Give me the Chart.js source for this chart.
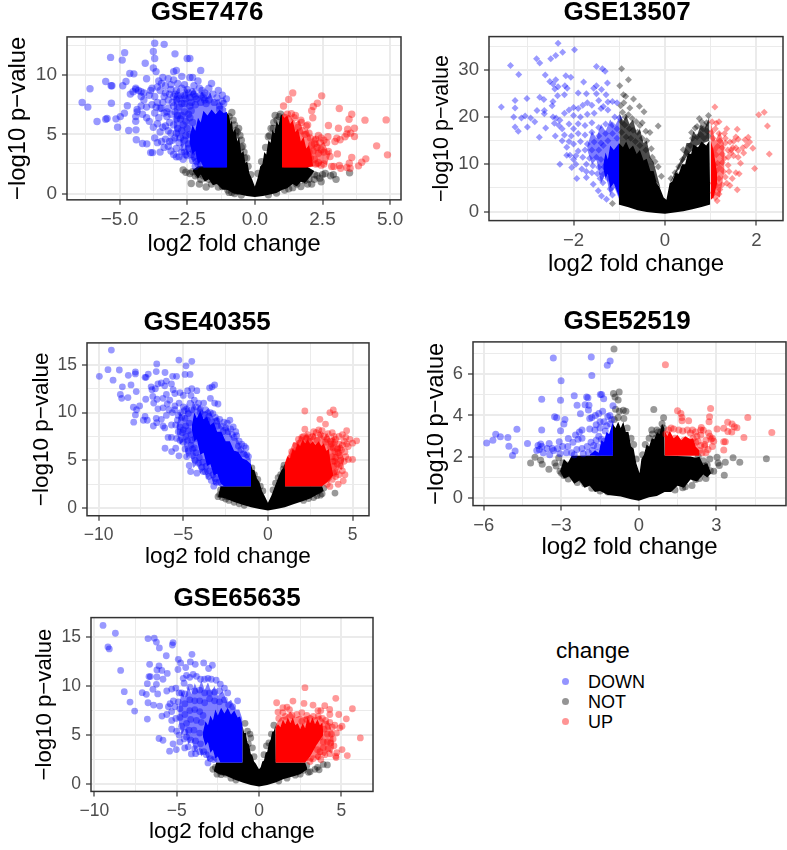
<!DOCTYPE html>
<html><head><meta charset="utf-8">
<script src="https://cdn.jsdelivr.net/npm/chart.js@4"></script>
<style>
html,body{margin:0;padding:0;background:#fff;overflow:hidden;width:787px;height:850px;font-family:"Liberation Sans",Arial,sans-serif}
canvas{position:absolute;filter:blur(.35px)}
.lg{position:absolute;color:#000;white-space:nowrap;line-height:1}
.dot{position:absolute;width:7px;height:7px;border-radius:50%}
</style></head><body>
<canvas id="c1"></canvas><canvas id="c2"></canvas><canvas id="c3"></canvas><canvas id="c4"></canvas><canvas id="c5"></canvas>
<div class="lg" style="left:556px;top:640px;font-size:22.5px">change</div>
<div class="dot" style="left:562px;top:678px;background:rgba(0,0,255,.42)"></div><div class="lg" style="left:588px;top:673px;font-size:18px">DOWN</div>
<div class="dot" style="left:562px;top:698px;background:rgba(0,0,0,.42)"></div><div class="lg" style="left:588px;top:693px;font-size:18px">NOT</div>
<div class="dot" style="left:562px;top:718px;background:rgba(255,0,0,.42)"></div><div class="lg" style="left:588px;top:713px;font-size:18px">UP</div>
<script>
const titles=["GSE7476","GSE13507","GSE40355","GSE52519","GSE65635"];
const xAxisLabel="log2 fold change", yAxisLabel="\u2212log10 p\u2212value";

// ---- GSE7476 ----
const p1XMajor=[-5,-2.5,0,2.5,5], p1XMinor=[-6.25,-3.75,-1.25,1.25,3.75];
const p1YMajor=[0,5,10], p1YMinor=[2.5,7.5,12.5];
const p1BlackTop=[[-2.3,2],[-2.1,2.3],[-1.04,2.3],[-1.03,6.8],[-.95,6.6],[-.9,5.9],[-.85,6.2],[-.8,5.2],[-.72,5.5],[-.65,4.4],[-.58,4.8],[-.5,3.4],[-.42,3.6],[-.35,2.6],[-.28,2.7],[-.2,1.7],[-.1,1.2],[0,.6],[.1,1.3],[.2,2.3],[.28,2.5],[.35,3.5],[.42,3.3],[.5,4.5],[.58,4.3],[.65,5.4],[.72,5.1],[.8,6.1],[.88,5.8],[.95,6.6],[1.02,6.7],[1.03,2.3],[1.9,2.3],[2.2,1.9]];
const p1BlackBase=[[-2.3,1.9],[-2.1,1.3],[-2,1.6],[-1.85,1],[-1.7,1.2],[-1.55,.7],[-1.4,.8],[-1.2,.35],[-1,.3],[-.8,0],[-.6,-.05],[-.3,-.2],[0,-.28],[.3,-.2],[.6,-.05],[.8,.05],[1,.3],[1.2,.45],[1.4,.8],[1.55,.6],[1.7,1],[1.85,.9],[2,1.3],[2.2,1.9]];
const p1BlueTop=[[-2.4,4.9],[-2.3,5.8],[-2.2,5.3],[-2.1,6.4],[-2,6],[-1.9,7],[-1.75,6.6],[-1.6,7.1],[-1.45,6.7],[-1.3,7.1],[-1.15,6.8],[-1.02,6.9]];
const p1BlueBase=[[-2.4,4.2],[-2.3,3.3],[-2.2,3.6],[-2.1,2.5],[-2,2.7],[-1.9,2.2],[-1.02,2.2]];
const p1BlueHaloTop=[[-3,8.2],[-2.85,8.9],[-2.7,8.3],[-2.55,9],[-2.4,8.4],[-2.25,8.9],[-2.1,8.2],[-1.95,8.6],[-1.8,8],[-1.65,8.5],[-1.5,7.8],[-1.35,8],[-1.2,7.4],[-1.05,7.2]];
const p1BlueHaloBase=[[-3,5.8],[-2.9,4.4],[-2.8,4.9],[-2.7,3.7],[-2.6,4.2],[-2.5,3.2],[-2.4,3.5],[-2.3,2.6],[-2.2,2.8],[-2.1,2.2],[-1.05,2.2]];
const p1RedTop=[[1,6.7],[1.1,6.4],[1.2,6.6],[1.3,5.9],[1.4,6.2],[1.5,5.2],[1.6,5.5],[1.7,4.4],[1.8,4.8],[1.9,3.8],[2,4.1],[2.1,3.2],[2.15,2.4]];
const p1RedBase=[[1,2.2],[1.5,2.2],[1.9,2.2],[2.15,2.3]];
const p1RedHaloTop=[[1.05,6.8],[1.3,6.6],[1.5,6],[1.65,6.2],[1.8,5.2],[1.95,5.5],[2.1,4.6],[2.25,4.9],[2.4,4.1],[2.55,4.4],[2.7,3.6],[2.8,3.7]];
const p1RedHaloBase=[[1.05,2.2],[2,2.2],[2.2,2.3],[2.35,2.2],[2.5,2.6],[2.65,2.4],[2.8,3.4]];
const p1Down=[[-6.38,7.69],[-6.17,7.3],[-6.09,8.85],[-5.83,6.08],[-5.33,11.5],[-4.9,11.27],[-4.81,11.9],[-5.51,9.46],[-5.31,9.1],[-5.28,9.1],[-5.3,7.63],[-5.51,6.28],[-5.46,6.34],[-5.13,6.31],[-5.07,5.6],[-4.97,6.5],[-4.82,6.79],[-4.71,7.41],[-4.76,9.46],[-4.88,9.1],[-4.62,10.14],[-4.47,10.11],[-4.66,5.32],[-4.39,5.38],[-4.38,4.54],[-4.15,4.23],[-3.99,4.2],[-3.7,12.7],[-3.35,12.6],[-3.75,12],[-2.95,11.8],[-3.7,11.4],[-2.5,11.4],[-2.4,11.4],[-4.05,11],[-3.75,10.6],[-3.65,10.3],[-3,10.3],[-2.9,10.4],[-2,10.4],[-2.7,9.9],[-2.4,9.8],[-2.3,9.8],[-2.1,9.5],[-1.6,9.3],[-1.35,8.7],[-1.05,8],[-3.4,9.8],[-3.2,9.7],[-3,9.6],[-3.55,9.5],[-4,9.7],[-3.3,9.1],[-3.6,9],[-3.8,8.9],[-4.3,8.7],[-4.4,8.8],[-4.1,8.5],[-4.6,8.4],[-4.5,8.6],[-4.4,8.9],[-4.2,8.6],[-3.9,8.3],[-3.7,8.2],[-3.5,8.7],[-3.3,8.5],[-3.1,8.8],[-2.9,8.7],[-2.7,8.9],[-2.5,8.8],[-2.3,8.6],[-2.05,8.9],[-1.95,8.7],[-1.75,8.3],[-1.55,8.4],[-1.4,8.1],[-1.2,7.8],[-2.2,8.2],[-2.4,8.1],[-2.6,8.3],[-2.8,8],[-3,8.2],[-3.2,7.9],[-3.4,7.7],[-3.6,7.7],[-3.8,7.5],[-4,7.3],[-4.2,7.4],[-4.35,7.1],[-4.35,6.9],[-4.4,6.5],[-4.4,6.1],[-4.15,6.7],[-4,6.4],[-3.9,6.1],[-3.75,5.6],[-3.55,6.4],[-3.35,6.8],[-3.2,7.2],[-3,7.4],[-2.8,7.3],[-2.6,7.6],[-2.4,7.4],[-2.2,7.5],[-2,7.7],[-1.8,7.6],[-3.7,4.7],[-3.6,4.3],[-3.5,5.2],[-3.4,5.6],[-3.3,4.6],[-3.1,5.1],[-3,5.8],[-2.9,6.3],[-2.7,6.6],[-2.55,6.1],[-3.85,3.46],[-3.78,3.46],[-3.5,3.5],[-3.35,3.9],[-3.2,4],[-3,3.3],[-2.9,3.1],[-2.8,3.1],[-2.55,3.3],[-2.5,3.2],[-2.3,2.8],[-2.25,3.6],[-2.2,2.3],[-2.95,4.7],[-2.8,4.3],[-2.65,3.9],[-2.55,4.9],[-2.7,5.3],[-2.85,5.5],[-3.15,6],[-3.25,6.5],[-2.95,6.9],[-2.65,5.8],[-2.45,6.7],[-2.35,7],[-3.45,4.4],[-3.15,4.4],[-2.45,4.2],[-2.4,5],[-2.6,3.5],[-2.35,3.3],[-2.15,2.7],
[-3.45,7.2],[-3.05,7.7],[-2.9,7.9],[-2.7,7.6],[-2.55,8],[-2.35,7.7],[-2.15,8],[-1.9,8.1],[-1.7,7.9],[-1.5,7.7],[-1.3,7.4],[-3.35,8.2],[-3.15,8.4],[-2.95,8.4],[-2.75,8.3],[-2.45,8.5],[-2.25,8.4],[-2,8.3],[-1.85,7.9],[-2.85,6.6],[-2.75,6.3],[-2.6,6.9],[-2.4,6.4],[-2.3,6],[-2.5,5.5],[-2.9,5.1],[-3.05,4.5],[-2.75,4.7],[-2.6,4.5],[-2.45,3.8],[-2.3,4.3],[-2.25,3.1],[-2.1,2.5],[-2.05,3.1],[-2.9,3.8],[-3.1,3.6],[-2.7,3.5],[-2.65,2.9],[-3.7,6.8],[-3.5,7.2],[-3.25,6.9],[-3.1,6.7],[-3.6,5.9],[-3.3,5.7],[-3.2,5.3],[-3.65,7.3],[-4.1,7.9],[-3.85,8.7],[-4.2,8.2],[-1.2,8.3],[-1.3,7.1],[-1.15,7.6],[-1.7,8.9],[-1.85,8.5],[-3.1,9.2],[-2.85,9.3],[-2.6,9.2],[-2.25,9.1],[-3.45,9.3]];
const p1Not=[[-2.65,2],[-2.55,1.8],[-2.4,1.7],[-2.3,1.85],[-2.35,.85],[-2.05,.8],[-1.8,.55],[-2.1,1.6],[-1.9,1.5],[-1.7,1.2],[-1.5,1.1],[-1.2,.6],[-1,.3],[-.85,6.85],[-.95,6.5],[-.8,6.2],[-.75,5.8],[-.6,5.5],[-.55,4.9],[-.5,4.5],[-.45,4],[-.4,3.5],[-.3,3],[-.7,5.3],[-.85,.1],[-.65,.2],[.75,6.6],[.9,6.5],[.95,6.7],[.7,6],[.6,5.5],[.5,4.8],[1.8,2],[1.9,1.9],[2,1.7],[2.2,1.6],[2.3,1.5],[2.4,1.3],[2.45,1],[2.1,.8],[1.95,.8],[1.7,.6],[2.6,1.7],[2.8,1.5],[2.9,1.6],[3,1.2],[3.5,1.75],[2.5,1.6],[1.4,.5],[1.6,1.2],[1.75,1.5],[1.1,.3],[-.65,5.2],[-.72,4.9],[-.5,3.9],[-.38,3],[-.25,2.3],[-.15,1.6],[.12,1.7],[.25,2.7],[.4,3.9],[.55,4.9],[.68,5.5],[.82,6.2],[-1.6,.8],[-1.35,.55],[-.95,.1],[-.75,0],[-.5,-.12],[.5,-.1],[.8,.05],[1.25,.4],[1.55,.8],[1.85,1.1],[2,1.2],[1.85,1.6],[2.2,1.2],[-2.2,1.5],[-2,1.2]];
const p1Up=[[1.06,7.4],[1.25,7.95],[1.4,8.5],[2.47,8.25],[2.31,7.63],[2.16,7.35],[2.1,7],[2.14,6.4],[3.12,7.18],[3.58,6.7],[3.48,6.28],[4.07,6.2],[4.85,6.22],[4.9,3.27],[4.5,4.03],[4.1,2.93],[3.95,2.65],[3.83,2.34],[3.68,5.52],[3.43,5.44],[3.4,5.04],[3.54,5.1],[3.68,4.82],[3.09,5.52],[2.72,5.75],[3.03,4.68],[3.33,4.8],[2.96,4.4],[3.15,4.54],[3.05,3.35],[2.72,3.55],[2.78,3.13],[2.84,2.28],[2.92,2.28],[3.12,2.37],[3.17,2.14],[3.4,2.2],[3.49,2.56],[3.58,3.04],[3.52,2.14],[1.2,6.7],[1.35,6.75],[1.45,6.4],[1.5,6.6],[1.7,6.2],[1.72,6],[1.9,5.7],[1.95,5.8],[1.6,5.6],[1.75,5.3],[1.85,5],[2,5.1],[2.05,4.7],[2.25,4.6],[2.35,4.9],[2.45,4.7],[2.55,4.5],[2.7,4.8],[2.65,4.3],[2.4,4.3],[2.2,4.2],[2.1,4.1],[2.3,3.9],[2.45,3.7],[2.55,3.5],[2.35,3.4],[2.15,3.6],[2,3.5],[2.05,3],[2.2,2.9],[2.35,2.6],[2.45,2.4],[2.55,2.5],[2.25,2.5],[1.95,2.6]];

// ---- GSE13507 ----
const p2XMajor=[-2,0,2], p2XMinor=[-3,-1,1];
const p2YMajor=[0,10,20,30], p2YMinor=[5,15,25,35];
const p2BlackHaloTop=[[-1,21],[-.92,19],[-.85,20.5],[-.78,18.5],[-.7,19.5],[-.62,16.5],[-.55,17.5],[-.47,14.5],[-.4,15],[-.32,11.5],[-.25,10.5],[-.1,5],[.1,6],[.2,8],[.3,10],[.4,12],[.47,14.5],[.55,14.5],[.62,17],[.7,16],[.78,18.5],[.86,17.5],[.97,20]];
const p2BlackHaloBase=[[-1,13],[-.8,13],[-.6,11],[-.4,9],[-.25,7],[-.1,5],[.1,6],[.3,9],[.5,12],[.7,14],[.97,15]];
const p2BlackTop=[[-1.02,1.5],[-1.01,14.5],[-.92,13.6],[-.85,14.8],[-.78,13.2],[-.7,14],[-.62,12.2],[-.55,13],[-.47,10.8],[-.4,11.2],[-.32,8.6],[-.25,8.6],[-.18,6],[-.12,5.2],[-.03,3],[.03,2.5],[.1,6],[.16,6.4],[.23,8.2],[.3,8],[.37,10],[.44,10],[.5,12.4],[.57,12.2],[.62,14.2],[.72,13.6],[.8,14.8],[.9,14],[.97,15],[.99,1.5]];
const p2BlackBase=[[-1.02,1.5],[-.8,.9],[-.6,.3],[-.4,-.1],[-.2,-.3],[0,-.45],[.2,-.2],[.4,.1],[.6,.5],[.8,1],[.99,1.5]];
const p2BlueTop=[[-1.35,10],[-1.3,12.5],[-1.25,11],[-1.2,14],[-1.12,13],[-1,14.5]];
const p2BlueBase=[[-1.35,9],[-1.3,7],[-1.25,8],[-1.2,5],[-1.12,6],[-1,3]];
const p2BlueHaloTop=[[-1.7,14],[-1.6,17],[-1.5,15.5],[-1.4,18.5],[-1.3,17],[-1.2,19.5],[-1.1,18],[-1,20]];
const p2BlueHaloBase=[[-1.7,13],[-1.6,10],[-1.5,11],[-1.4,6],[-1.3,8],[-1.2,3.5],[-1.1,5],[-1,2.5]];
const p2RedTop=[[1,15],[1.06,13],[1.14,8]];
const p2RedBase=[[1,2.5],[1.06,3],[1.14,6]];
const p2RedHaloTop=[[1,19],[1.1,15],[1.2,17],[1.3,14]];
const p2RedHaloBase=[[1,2.5],[1.1,3.5],[1.2,3],[1.3,9]];
const p2Down=[[-2.34,35.6],[-1.98,34.2],[-2.24,33.7],[-2.39,33],[-2.5,32.3],[-2.81,32.3],[-2.74,31.4],[-3.38,30.9],[-3.2,29],[-2.62,28.9],[-1.5,30.7],[-1.37,30.2],[-1.31,29.7],[-2.17,28.7],[-2.06,28.4],[-2.39,27.9],[-2.52,27.5],[-2.45,27],[-1.78,27.4],[-1.26,27.2],[-1.5,26.6],[-1.56,26.1],[-2.19,26.6],[-2.14,26.1],[-2.41,25.9],[-2.34,26.4],[-1.39,25.8],[-1.9,25.1],[-1.72,24.9],[-1.5,24.9],[-1.29,24.7],[-2.2,24.7],[-2.35,24.5],[-3.02,23.9],[-3.28,23.5],[-2.74,24.2],[-2.65,23.7],[-2.45,23.3],[-2.47,22.4],[-3.28,21.9],[-3.58,22.1],[-2.8,21.4],[-2.64,21.4],[-2.64,20.7],[-3.31,20],[-3.14,19.8],[-3.06,20.2],[-2.94,19.8],[-2.85,19],[-3.28,17.9],[-3.21,17],[-3.01,17.9],[-2.61,17.7],[-2.75,15.7],[-2.45,20],[-2.38,19.8],[-2.3,19.3],[-2.42,18.7],[-2.32,18.2],[-2.25,17.5],[-2.4,16],[-2.2,16.2],[-2.3,10],[-2.04,9.3],[-1.93,7],[-1.72,7.2],[-1.57,5.8],[-1.36,6.1],[-2.15,11.9],[-2.08,11.9],[-2,11],[-1.46,4.4],[-1.39,3.3],[-1.28,2.6],[-1.15,3.5],[-1.2,4.8],[-2.2,20.8],[-2.1,21.5],[-2,22],[-1.9,21.8],[-1.8,22.5],[-1.7,23],[-1.6,22.5],[-1.45,23.5],[-1.35,22.2],[-1.25,23.2],[-1.15,23.3],[-1.05,23],[-2,20.3],[-1.85,20],[-1.7,20.6],[-1.55,20.8],[-1.4,21.8],[-1.25,21.5],[-1.1,20],[-1,19.8],[-2.1,18.5],[-2,17.5],[-1.9,18.6],[-1.75,18.2],[-1.6,18.8],[-1.45,17.8],[-1.3,18.5],[-1.15,18.3],[-1.05,17.5],[-2.05,16],[-1.9,16.5],[-1.75,16.2],[-1.6,16.8],[-1.45,16],[-1.3,16.5],[-1.15,16.5],[-1.05,15.5],[-2,14.3],[-1.85,14.8],[-1.7,14.3],[-1.55,14.7],[-1.4,14.5],[-1.25,15],[-1.9,12.8],[-1.75,13],[-1.6,13],[-1.45,13],[-1.35,14],[-1.95,11.8],[-1.8,11.5],[-1.65,11.3],[-1.5,11.5],[-1.4,11],[-1.72,10],[-1.58,9.7],[-1.45,9.4],[-1.33,9.5],[-1.6,8.2],[-1.48,8],[-1.35,7.9],[-1.25,7],[-1.15,6.6],[-1.42,7],[-2.15,13.6],[-2.1,14.8],[-2.25,15],[-1.95,10],[-1.82,9],[-1.72,8.5]];
const p2Not=[[-.95,30.2],[-.8,27.9],[-.99,26.6],[-.91,24.7],[-.86,24.4],[-.69,23.8],[-.56,22.3],[-.46,21.1],[-.77,21.9],[-.15,18.1],[.95,20.3],[.75,19.7],[.91,18.8],[.66,17.7],[.58,16.7],[.4,13.1],[-1.15,1.7],[-.93,21],[-.87,20],[-.8,20.5],[-.72,19.7],[-.63,19],[-.55,18.2],[-.5,18.8],[-.42,17],[-.33,16.7],[-.95,19],[-.88,18.3],[-.78,17.5],[-.7,17.2],[-.6,16.8],[-.5,15.5],[-.4,15],[-.95,16.8],[-.85,15.8],[-.75,15.5],[-.65,14.8],[-.55,14],[-.42,13],[-.3,13.3],[-.28,11.5],[-.22,10.6],[-.15,9.5],[-.08,7.5],[.92,17],[.83,17.5],[.78,16.3],[.7,15.8],[.6,15.5],[.85,15.5],[.95,16],[.55,14],[.47,12.5],[.38,11],[.3,9.5],[.22,8.2],[.13,7],[.7,18],[.8,19],[.87,18.2],[-.97,22.4],[-.9,23]];
const p2Up=[[1.09,22.1],[2.05,20.5],[2.17,21],[2.24,18.1],[2.28,12.2],[1.96,9.1],[1.03,19],[1.12,18.7],[1.18,19],[1.1,17.5],[1.18,16.5],[1.35,17.5],[1.3,16.5],[1.58,17.4],[1.55,15.8],[1.02,16.8],[1.05,15.5],[1.2,15],[1.32,14.5],[1.42,14.7],[1.5,14.9],[1.6,15.3],[1.75,15.2],[1.82,15.7],[1.85,14.7],[1.78,14],[1.92,13.4],[1.7,13.5],[1.6,12.9],[1.48,13.5],[1.37,13],[1.25,13.5],[1.15,13.8],[1.08,13],[1.12,12],[1.25,12.2],[1.38,11.5],[1.5,11.8],[1.6,11.5],[1.72,12.4],[1.65,10.2],[1.38,9.8],[1.25,10.4],[1.15,10.2],[1.08,9.8],[1.12,8.6],[1.28,8.5],[1.4,8.5],[1.55,8.2],[1.62,8],[1.32,7.3],[1.47,7],[1.18,7],[1.35,6],[1.42,5.5],[1.58,4.6],[1.05,6],[1.12,5.5],[1.2,4.7],[1.25,5.7],[1.18,3.7],[1.1,3],[1.14,2.3],[1.05,4],[1.55,13.5],[1.44,12.4],[1.3,11.3],[1.2,9.2],[1.32,15.5],[1.45,13]];

// ---- GSE40355 ----
const p3XMajor=[-10,-5,0,5], p3XMinor=[-7.5,-2.5,2.5];
const p3YMajor=[0,5,10,15], p3YMinor=[2.5,7.5,12.5];
const p3BlackTop=[[-2.95,1.2],[-2.8,2.3],[-1.02,2.3],[-1.01,4.6],[-.9,4],[-.8,4],[-.65,3.1],[-.5,2.7],[-.35,1.8],[-.2,1.3],[0,.55],[.2,1.3],[.35,2],[.5,2.7],[.65,3.4],[.8,4],[.9,4.2],[1,4.7],[1.02,2.3],[3.2,2.3],[3.3,1.8]];
const p3BlackBase=[[-2.95,1.2],[-2.5,1],[-2,.65],[-1.5,.35],[-1,.1],[-.5,-.1],[0,-.25],[.5,-.1],[1,.1],[1.5,.4],[2,.7],[2.5,1],[3,1.5],[3.3,1.8]];
const p3BlueTop=[[-4.5,8.6],[-4.35,10],[-4.2,9.4],[-4,10.2],[-3.8,9.3],[-3.6,9.6],[-3.4,8.7],[-3.2,9],[-3,8],[-2.75,8],[-2.5,7],[-2.25,7],[-2,6],[-1.75,5.9],[-1.5,5.2],[-1.25,5],[-1,4.6]];
const p3BlueBase=[[-4.5,8.2],[-4.35,7],[-4.2,7.2],[-4,5.6],[-3.8,5.8],[-3.6,4.4],[-3.4,4.6],[-3.2,3.4],[-3,3.6],[-2.8,2.6],[-2.6,2.3],[-1,2.3]];
const p3BlueHaloTop=[[-5.4,8.5],[-5.2,10.2],[-5,9.4],[-4.8,11],[-4.6,10.2],[-4.4,11.2],[-4.2,10.4],[-4,10.9],[-3.8,10],[-3.5,10.5],[-3.2,9.4],[-3,9.6],[-2.7,8.5],[-2.4,8.6],[-2.1,7.4],[-1.8,7.3],[-1.5,6],[-1.25,5.9],[-1,5]];
const p3BlueHaloBase=[[-5.4,8],[-5.2,6.6],[-5,7],[-4.8,5.2],[-4.6,5.6],[-4.4,4.2],[-4.2,4.6],[-4,3.6],[-3.8,4],[-3.6,3],[-3.4,3.4],[-3.2,2.4],[-3,2.6],[-2.8,2.2],[-1,2.3]];
const p3RedTop=[[1,4.7],[1.15,5.4],[1.3,5.2],[1.45,6.2],[1.6,6],[1.75,6.8],[1.9,6.5],[2.05,7.2],[2.2,6.8],[2.35,7.2],[2.5,6.7],[2.65,7],[2.8,6.6],[3,7],[3.15,6.5],[3.3,6.8],[3.45,6],[3.6,6.2],[3.7,4.8],[3.85,3.6]];
const p3RedBase=[[1,2.3],[2,2.3],[3.2,2.3],[3.5,2.7],[3.85,3.4]];
const p3RedHaloTop=[[1,4.7],[1.3,6],[1.5,6.9],[1.7,6.8],[1.9,7.6],[2.1,7.4],[2.3,7.9],[2.5,7.3],[2.7,7.9],[2.9,7.4],[3.1,8],[3.3,7.4],[3.5,7.9],[3.7,7.2],[3.9,7.6],[4.1,6.4],[4.25,6.7],[4.4,5.6],[4.5,5.2]];
const p3RedHaloBase=[[1,2.3],[3.2,2.3],[3.4,2.9],[3.6,2.6],[3.8,3.4],[4,3.2],[4.2,4.2],[4.35,4],[4.5,5]];
const p3Down=[[-9.25,16.55],[-9.45,14.5],[-9.96,13.8],[-8.78,14.46],[-9.15,13.4],[-8.25,13.9],[-7.83,14.25],[-7.83,14.05],[-7.07,14.04],[-7.26,13.7],[-7.2,13.7],[-6.57,15.1],[-6.6,14.3],[-6.08,14.2],[-5.26,15.5],[-4.5,15.37],[-4.84,14.9],[-4.9,14],[-4.6,14],[-5.63,13.8],[-5.4,13.8],[-8.09,12.9],[-8.6,12.7],[-7.78,12.2],[-8.72,11.9],[-8.64,11.5],[-8.27,11.57],[-7.22,11.4],[-7.95,10.56],[-7.58,10.7],[-7.76,10.3],[-7.83,9.76],[-7.93,9],[-7.26,9.6],[-7.36,9.2],[-7.13,9.2],[-6.77,8.6],[-6.57,8.95],[-6.9,12.7],[-6.85,12.4],[-6.65,12.5],[-6.5,13],[-6.3,13.1],[-6.1,12.8],[-6,13.3],[-5.7,13],[-5.6,12.4],[-5.5,12],[-5.2,12.1],[-5,11.8],[-4.75,12.3],[-4.5,12.5],[-4.2,12.3],[-3.45,12.6],[-3.3,12.7],[-3.15,12.9],[-4.55,11.8],[-4.35,11.3],[-4.1,11],[-3.8,11],[-3.4,11.5],[-3.15,11],[-2.95,10.9],[-6.8,11.7],[-6.55,11.4],[-6.75,11],[-6.5,10.4],[-6.2,11.5],[-6,11.9],[-5.8,11.3],[-6.2,10.5],[-5.95,10.9],[-5.85,10.3],[-5.65,10],[-5.5,10.7],[-5.25,11],[-5,10.6],[-4.8,10.4],[-4.6,11],[-6.3,9.3],[-6.6,9.4],[-6,9.7],[-5.7,8.7],[-6.2,8.6],[-6.1,8.4],[-5.35,9.2],[-5.1,9.5],[-4.9,9.4],[-3.7,10.3],[-3.4,10],[-3.1,9.5],[-2.85,9.3],[-2.6,9],[-2.4,8.9],[-2.25,9.2],[-2.05,8.5],[-1.9,8],[-2.1,7.7],[-1.85,7.6],[-1.7,7],[-1.55,6.7],[-1.4,6.5],[-1.3,6.3],[-1.15,5.4],[-1.45,5.7],[-2.35,8],[-2.65,8],[-3,8.6],[-3.3,9],[-3.6,9.2],[-4,10],[-5.9,7.4],[-5.7,7.4],[-5.4,7.3],[-5.2,7.1],[-5,6.9],[-5.3,8],[-5.05,7.9],[-6.08,6.27],[-5.69,5.92],[-5.45,6.27],[-5.26,5.47],[-4.8,5.4],[-4.65,4.46],[-4.57,3.83],[-4.2,3.66],[-3.82,3.83],[-3.5,3.3],[-3.2,2.3],[-4.9,6.2],[-4.7,6],[-4.45,5.5],[-4.3,5],[-4.1,4.7],[-3.9,4.3],[-3.7,3.8],[-3.35,2.9],[-4.55,6.6],[-4.35,6.3],[-4.75,7.1],[-3.05,2.7],
[-5.5,10.3],[-5.3,9.7],[-5.15,10],[-4.95,10.2],[-4.7,9.9],[-4.5,10.3],[-4.25,10.6],[-4,10.4],[-3.75,9.8],[-3.5,9.6],[-3.25,9.9],[-3,9.1],[-2.75,8.6],[-2.5,8.4],[-2.2,8.3],[-2,7.4],[-1.75,6.5],[-1.6,6.1],[-1.25,5.6],[-5.45,8.7],[-5.2,8.5],[-5,8.2],[-4.85,8.6],[-4.65,8.9],[-4.7,8.1],[-4.55,7.7],[-4.85,7.5],[-4.5,7.1],[-4.3,7.3],[-4.45,6.2],[-4.25,5.8],[-4.05,5.3],[-3.85,4.8],[-3.65,4.4],[-3.45,3.9],[-3.25,3.5],[-3.1,3.1],[-2.9,2.7]];
const p3Not=[[3.96,1.57],[-2.85,1.4],[-2.95,1.2],[-2.7,1.1],[-2.5,.95],[-2.6,1.5],[-2.3,.8],[-2,.6],[-1.7,.45],[-1.4,.3],[-.95,4.2],[-.8,3.5],[.95,4.5],[.9,4.1],[.75,3.5],[3.2,1.5],[3.3,2.1],[3.1,1.35],[2.9,1.3],[2.7,1.1],[2.4,1],[2.1,.8],[3,1.8],[-.6,3],[-.45,2.3],[-.3,1.8],[.3,1.9],[.45,2.6],[.6,3.2],[-2.8,1.9],[-2.4,1.2]];
const p3Up=[[2.18,10.17],[3.86,10.28],[3.66,10],[3.96,9.8],[3.07,9.3],[3.4,8.8],[2.18,8.26],[3,8.2],[4.65,8.1],[5.24,7.04],[5,6.8],[4.84,7.2],[4.74,6.45],[4.55,5.9],[5,5.1],[4.75,5.1],[4.6,5.4],[4.3,5],[4.15,2.5],[4.45,2.86],[3.66,2.27],[1.3,5.2],[1.5,5.5],[1.6,6],[1.65,6.6],[1.85,6.8],[2,7.4],[2.1,7.5],[2.25,7.3],[2.5,7.4],[2.7,8],[2.85,7.9],[3.1,7.7],[3.3,7.5],[3.55,7.8],[3.8,7.9],[3.9,7.5],[4,7.2],[4.2,7.5],[4.4,7.7],[4.6,7.4],[3.7,7],[3.95,6.9],[4.2,6.7],[4.4,6.6],[4.65,6.7],[4.1,6.2],[4.35,6.1],[3.85,6.3],[3.7,6.4],[3.95,5.9],[4.15,5.8],[3.8,5.4],[4,5.3],[4.25,5.5],[3.85,4.9],[4.1,4.6],[3.9,4.4],[4.05,3.8],[3.85,3.7],[4.2,3.5],[3.8,3],[3.6,3.2],[3.5,2.5],[2.4,7],[2.9,7.1],[3.4,6.9],[1.15,4.3],[1.4,5.9],[1.8,7.2],[2.35,7.7],[2.65,7.5],[3.2,8.1],[3.5,7.2],[3.75,6.7],[4.5,7],[4.25,6.3],[4.5,4.9],[4.3,4.4],[4.4,3.9],[4.55,3.5],[4,3.3],[3.95,4.9]];

// ---- GSE52519 ----
const p4XMajor=[-6,-3,0,3], p4XMinor=[-4.5,-1.5,1.5,4.5];
const p4YMajor=[0,2,4,6], p4YMinor=[1,3,5,7];
const p4BlackTop=[[-3.05,1.3],[-2.9,1.9],[-2.75,1.7],[-2.6,2.05],[-1.02,2.06],[-1.01,3.6],[-.9,3.4],[-.8,3.7],[-.7,3.4],[-.6,3.7],[-.5,3.2],[-.4,3.2],[-.3,2.5],[-.2,2.4],[-.1,1.7],[.03,1.2],[.1,1.9],[.2,2.1],[.3,2.6],[.4,2.5],[.5,2.9],[.6,2.85],[.7,3.2],[.8,3.1],[.9,3.6],[.99,3.4],[1,2.06],[2,2.02],[2.2,1.95],[2.35,2],[2.5,1.6],[2.65,1.7],[2.8,1.2]];
const p4BlackBase=[[-3.05,1.3],[-2.9,.95],[-2.7,1.05],[-2.5,.7],[-2.3,.85],[-2.1,.5],[-1.9,.6],[-1.7,.3],[-1.5,.35],[-1.2,.15],[-.7,.08],[-.3,-.05],[0,-.13],[.4,.05],[.7,.1],[1,.3],[1.25,.3],[1.5,.6],[1.75,.5],[2,.9],[2.25,.8],[2.5,1.15],[2.65,1],[2.8,1.2]];
const p4BlueTop=[[-1.9,2.1],[-1.7,2.3],[-1.55,2.2],[-1.45,2.8],[-1.35,2.7],[-1.25,3.2],[-1.15,3.1],[-1,3.7]];
const p4BlueBase=[[-1.9,2.06],[-1.45,2.05],[-1,2.05]];
const p4RedTop=[[1,3.3],[1.1,3],[1.2,3.25],[1.35,2.9],[1.5,3.05],[1.65,2.8],[1.8,3],[2,2.85],[2.1,2.9],[2.2,2.5],[2.35,2.3]];
const p4RedBase=[[1,2.05],[1.5,2.05],[2,2.05],[2.35,2.05]];
const p4Down=[[-3.31,6.78],[-1.84,6.83],[-1.82,5.93],[-1.11,6.64],[-1.22,6.43],[-3.01,5.68],[-3.76,4.79],[-3.03,4.74],[-2.5,4.95],[-2.02,4.89],[-1.97,4.86],[-1.49,5.02],[-1.44,5.02],[-1.36,4.81],[-2.39,4.5],[-2.08,4.52],[-1.93,4.5],[-1.95,4.26],[-1,4.47],[-2.26,4.08],[-3.26,3.94],[-3.18,3.89],[-2.86,3.81],[-2.9,3.59],[-3.76,3.3],[-3.03,3.26],[-4.72,3.33],[-5.54,3.09],[-5.36,2.97],[-5.07,2.93],[-5.65,2.8],[-5.89,2.67],[-5.03,2.51],[-4.79,2.28],[-4.89,2.06],[-4.31,2.65],[-3.8,2.62],[-3.47,2.65],[-3.08,2.73],[-2.73,2.89],[-1.9,3.85],[-1.82,3.9],[-1.68,4],[-1.55,4.1],[-1.4,4.2],[-1.2,3.95],[-1.12,4],[-1.05,3.8],[-1.5,3.7],[-1.35,3.7],[-1.1,3.6],[-1.25,3.5],[-1.5,3.4],[-1.7,3.3],[-1.9,3.35],[-2.2,3.3],[-2.3,3.2],[-2.45,3.05],[-2.2,2.9],[-2.35,2.85],[-2.55,2.7],[-2.75,2.5],[-2.95,2.5],[-3.15,2.4],[-3.35,2.4],[-3.55,2.4],[-3.75,2.5],[-3.85,2.35],[-3.95,2.3],[-3.7,2.2],[-3.45,2.1],[-3.3,2.3],[-3.05,2.15],[-2.8,2.2],[-2.6,2.2],[-2.4,2.35],[-2.2,2.4],[-2,2.5],[-1.85,2.7],[-1.65,2.8],[-1.55,3],[-1.75,2.55],[-1.95,2.2],[-2.15,2.15],[-2.5,2.1],[-3.9,2.55],[-1.65,3.55],[-1.3,3.25],[-1.6,2.5],[-1.45,2.85],[-1.8,2.3],[-1.6,2.2],[-1.35,2.75],[-1.2,2.9]];
const p4Not=[[-.96,7.22],[-.76,5.14],[-.98,5.06],[-.92,4.9],[-.8,4.75],[.58,4.29],[.96,3.89],[4.94,1.91],[3.91,1.74],[3.65,1.96],[3.31,1.11],[3.35,1.74],[3.03,1.98],[3.07,1.7],[3.12,1.58],[2.77,1.33],[-4.19,1.7],[-4.02,1.98],[-3.8,1.84],[-3.74,1.64],[-3.48,1.4],[-3.25,1.7],[-3.2,1.55],[-2.99,1.2],[-2.73,.93],[-2.38,.76],[-1.82,.48],[2.06,.61],[.5,3.3],[.53,3.1],[-.9,4.3],[-.75,4.2],[-.6,4.25],[-.5,4.2],[-.58,3.85],[-.8,3.9],[-.95,3.8],[.9,3.6],[.95,3.4],[.75,3.2],[.65,2.9],[-3.1,1.95],[-2.95,1.7],[-3.05,1.3],[-2.75,1.6],[-2.6,1.3],[-2.45,1.1],[-2.2,.9],[2.3,2],[2.5,1.8],[2.65,1.6],[2.75,1.9],[2.9,1.3],[2.45,1.2],[2.6,.95],[2.2,.9],[1.8,.55],[-1.5,.35],[-1.2,.3],[-.3,2.9],[-.2,2.6],[-.45,3.4],[-.1,1.9],[.15,2.1],[.25,2.6],[.4,2.9],[.7,3.3],[.85,3.2],[-2.1,.7],[-2.9,1.1],[1.4,.4],[1.7,.5],[2.35,.95],[2.5,1.55]];
const p4Up=[[1.03,6.45],[2.78,4.34],[2.74,3.94],[2.72,3.7],[1.5,4.23],[1.63,4.1],[1.67,3.9],[1.67,3.75],[1.93,3.75],[4.22,3.9],[5.15,3.18],[4.07,2.94],[3.44,3.67],[3.61,3.59],[3.8,3.41],[3.45,3.22],[3.29,3.38],[3.03,3.34],[3.29,2.73],[3.35,2.73],[3.29,2.33],[3.6,3.2],[3.7,3.45],[2.42,3.42],[2.4,3.3],[2.5,3.28],[2.08,3.3],[1.88,3.3],[2.2,3.2],[1.55,3.3],[1.25,3.4],[1.15,3.3],[2.4,3.05],[2.55,2.6],[2.55,2.5],[2.4,2.55],[2.75,3],[2.85,2.9],[2.8,2.85],[2.9,2.75],[2.7,3.15],[2.68,2.35],[2.85,2.5],[2.6,2.2],[2.35,2.3],[2.2,2.7],[2.15,2.5],[1.4,2.9],[1.75,2.8],[2.1,2.9],[2.05,2.7],[1.35,3.35],[1.7,3.25],[2,3.15],[2.25,3],[2.3,2.75],[2.45,2.2],[2.6,2.8],[1.05,3.1]];

// ---- GSE65635 ----
const p5XMajor=[-10,-5,0,5], p5XMinor=[-7.5,-2.5,2.5];
const p5YMajor=[0,5,10,15], p5YMinor=[2.5,7.5,12.5];
const p5BlackTop=[[-2.75,1.3],[-2.6,2.2],[-1.02,2.2],[-1.01,6],[-.9,5.2],[-.8,5.2],[-.7,4.2],[-.6,4],[-.5,3.1],[-.4,2.9],[-.3,2.3],[-.2,2.1],[0,1.5],[.1,1.7],[.2,2.3],[.3,2.4],[.4,3.2],[.5,3.3],[.6,4.2],[.7,4.5],[.8,5.3],[.9,5.4],[1,6],[1.02,2.2],[2.8,2.2],[2.95,1.5]];
const p5BlackBase=[[-2.75,1.3],[-2.4,1],[-2,.85],[-1.5,.45],[-1,.15],[-.5,-.1],[0,-.25],[.5,-.1],[1,.15],[1.5,.5],[2,.75],[2.5,1],[2.95,1.5]];
const p5BlueTop=[[-3.4,5.3],[-3.25,6.4],[-3.1,6],[-2.95,7],[-2.8,6.5],[-2.65,7.6],[-2.5,7],[-2.3,7.8],[-2.1,7.2],[-1.9,7.8],[-1.7,7.1],[-1.5,7.5],[-1.3,6.8],[-1.15,6.9],[-1,6]];
const p5BlueBase=[[-3.4,4.8],[-3.25,3.9],[-3.1,4.3],[-2.95,3.2],[-2.8,3.5],[-2.65,2.6],[-2.5,2.8],[-2.35,2.2],[-1,2.2]];
const p5BlueHaloTop=[[-4.9,7.5],[-4.7,9.5],[-4.5,8.8],[-4.3,10],[-4.1,9.2],[-3.9,10.3],[-3.7,9.5],[-3.5,10.6],[-3.3,9.6],[-3.1,10.4],[-2.9,9.4],[-2.7,10],[-2.5,9],[-2.2,9.5],[-1.9,8.3],[-1.7,8.6],[-1.4,7.6],[-1.2,7.6],[-1,6.6]];
const p5BlueHaloBase=[[-4.9,6.6],[-4.7,5],[-4.5,5.6],[-4.3,4],[-4.1,4.5],[-3.9,3.3],[-3.7,3.8],[-3.5,2.8],[-3.3,3.2],[-3.1,2.3],[-2.9,2.6],[-2.6,2.2],[-1,2.2]];
const p5RedTop=[[1,5.7],[1.15,6.1],[1.3,5.8],[1.45,6.6],[1.6,6.1],[1.75,6.8],[1.9,6.2],[2.05,6.8],[2.2,6],[2.35,6.2],[2.5,5.6],[2.65,6.2],[2.8,5.7],[2.95,6.8],[3.1,6.2],[3.25,6.8],[3.4,6.1],[3.55,6.6],[3.7,6],[3.85,6.3],[3.9,5.2]];
const p5RedBase=[[1,2.2],[2,2.2],[2.8,2.2],[3.1,2.8],[3.5,4],[3.9,5]];
const p5RedHaloTop=[[1,6],[1.3,6.8],[1.6,6.9],[1.9,7.4],[2.2,6.8],[2.5,7],[2.8,6.8],[3.1,7.1],[3.4,6.8],[3.7,7],[4,6.4],[4.2,6.5],[4.4,5.5],[4.5,5.5],[4.55,3.8]];
const p5RedHaloBase=[[1,2.2],[2.8,2.2],[3,2.4],[3.2,2.2],[3.4,2.7],[3.6,2.4],[3.8,3],[4,2.8],[4.2,3.4],[4.4,3.1],[4.55,3.7]];
const p5Down=[[-9.47,16.2],[-8.72,15.4],[-9.17,14],[-9.09,13.8],[-8.4,11.6],[-8.18,9.43],[-7.83,8.37],[-7.55,7.45],[-6.78,6.63],[-6.74,14.86],[-6.36,14.9],[-6.23,14.5],[-6.05,13.9],[-5.22,14.45],[-5.26,14.2],[-5.63,13.1],[-4.9,12.74],[-4.07,13.25],[-4.17,12.47],[-4.76,12.37],[-6.64,12.23],[-6.07,12.06],[-6.2,11.65],[-5.9,11.6],[-5.57,11.3],[-4.92,11.7],[-4.45,11.9],[-3.87,12.23],[-3.36,12.37],[-2.83,12.13],[-3.06,11.8],[-6.68,10.97],[-6.6,10.97],[-6.2,10.93],[-5.83,10.7],[-6.78,10.25],[-6.23,10.18],[-7.09,9.33],[-6.84,9.16],[-6.44,9.67],[-6.15,9.2],[-6.74,8.3],[-6.4,8.06],[-6.03,7.96],[-5.89,6.94],[-6.07,4.65],[-5.83,4.47],[-5.43,3.35],[-5.02,3.52],[-5.22,4.1],[-4.51,3.69],[-4.11,3.07],[-3.85,3.1],[-3.1,2.15],[-5.6,9.5],[-5.3,9.7],[-5.05,9.8],[-4.85,9.3],[-4.7,9.3],[-4.55,10.3],[-4.6,10.8],[-4.4,11.1],[-4.2,10.9],[-4,11.2],[-3.8,11],[-3.55,10.7],[-3.3,10.7],[-3.1,10.8],[-2.9,10.7],[-2.6,10.6],[-2.35,10.2],[-2.1,9.8],[-1.9,9.3],[-1.3,8.5],[-2.4,9.5],[-2.7,9.4],[-3,9.3],[-3.3,9.3],[-3.6,9.6],[-3.9,9.5],[-4.2,9.9],[-4.5,9.2],[-4.9,8.4],[-5.2,8.5],[-5.4,8.2],[-5.5,7.9],[-5.1,7.9],[-4.8,7.7],[-4.5,8.2],[-4.2,8.6],[-3.9,8.5],[-3.6,8.5],[-3.3,8.3],[-3,8.7],[-2.7,8.5],[-2.4,8.4],[-2.1,8.6],[-1.85,8.1],[-1.6,7.9],[-5.6,7.1],[-5.3,7.4],[-5.05,6.7],[-5.3,6.5],[-4.8,6.8],[-4.5,7.1],[-4.2,7.5],[-3.9,7.6],[-3.6,7.4],[-3.4,7],[-4.7,5.9],[-4.4,6.2],[-4.15,6.6],[-3.8,6.5],[-3.5,6.3],[-4.5,5.3],[-4.25,5.5],[-3.95,5.5],[-3.6,5.2],[-4.4,4.8],[-4.8,4.3],[-4.55,4.6],[-4.15,4.5],[-3.85,4.4],[-3.55,4.1],[-4.3,3.8],[-3.9,3.6],[-3.6,3.3],[-3.35,3.3],[-3.2,3],[-2.95,2.6],[-2.75,2.5],[-5.3,5.6],[-5,5.4],[-4.85,5]];
const p5Not=[[-2.55,1],[-2.65,1.7],[-2.4,1.3],[-2.2,1.2],[-2,1],[-1.7,.6],[-1.4,.4],[-.85,6.2],[-.7,5.4],[-.55,5.1],[-.5,4.7],[-.4,3.7],[.9,6],[.75,5.1],[.6,4.2],[2.7,1.4],[3,1.2],[3.1,1.25],[3.4,1.5],[3.55,1.7],[3.65,1.45],[4.15,1.95],[3.9,2],[2.9,1.9],[2.5,1],[2.2,.9],[-.65,4.1],[-.3,2.8],[.3,3],[.45,3.9],[-2.8,1.5],[-2.3,.95],[1.2,.3],[1.7,.6]];
const p5Up=[[2.79,9.84],[1.07,8.3],[2.73,8.23],[3.28,8.06],[4.66,8.75],[5.67,7.69],[5.3,6.66],[6.15,4.71],[5.36,2.9],[5.04,3.52],[4.66,2.84],[4.72,3.2],[4.9,5.74],[5.04,5.9],[4.29,7.62],[4.3,7.1],[4.84,7.1],[3.99,8],[3.58,7.5],[3.75,7.5],[2.06,8.47],[1.7,7.86],[1.45,7.8],[1.15,7.35],[1.45,7.3],[1.85,7.6],[2.3,7.1],[2.6,7.3],[2.9,7],[3.3,6.9],[3.6,6.9],[3.85,6.7],[4.05,6.5],[4.3,6.3],[4.6,6],[4.45,5.8],[4.2,5.9],[3.95,5.6],[4.15,5.1],[4.4,5.1],[4.7,5.2],[4.5,4.6],[4.15,4.3],[4.35,4.2],[3.9,4.3],[4.55,3.9],[4.2,3.6],[3.9,3.7],[3.7,3.3],[4,3],[4.3,3.1],[3.6,2.8],[3.3,2.6],[3.75,2.5],[3.1,2.3],[4.68,2.7],[3.5,5.5],[3.25,5.2],[3.7,4.8],[3.4,4.4],[1.2,6.7],[1.6,6.9],[2,7],[2.6,6.4],[2.9,6.6],[3.55,3.5]];

const panels=[
 {id:'c1',L:67,R:401,T:37,B:200,w:414,left:0,ty:12.7,xty:245,yTx:18,tf:26,xf:23.6,yf:23.9,tk:19,r:3.7,style:'circle',x:[-6.94,5.4],y:[-.53,13.23],xM:p1XMajor,xm:p1XMinor,yM:p1YMajor,ym:p1YMinor,fmt:v=>v.toFixed(1),bT:p1BlackTop,bB:p1BlackBase,dT:p1BlueTop,dB:p1BlueBase,uT:p1RedTop,uB:p1RedBase,dHT:p1BlueHaloTop,dHB:p1BlueHaloBase,uHT:p1RedHaloTop,uHB:p1RedHaloBase,down:p1Down,not:p1Not,up:p1Up},
 {id:'c2',L:489,R:783,T:37,B:221,w:400,left:427,ty:13,xty:265,yTx:442,tf:26,xf:24,yf:21.5,tk:18.6,r:3.5,style:'rectRot',x:[-3.85,2.58],y:[-1.9,37],xM:p2XMajor,xm:p2XMinor,yM:p2YMajor,ym:p2YMinor,fmt:v=>String(v),bHT:p2BlackHaloTop,bHB:p2BlackHaloBase,bT:p2BlackTop,bB:p2BlackBase,dT:p2BlueTop,dB:p2BlueBase,uT:p2RedTop,uB:p2RedBase,dHT:p2BlueHaloTop,dHB:p2BlueHaloBase,uHT:p2RedHaloTop,uHB:p2RedHaloBase,down:p2Down,not:p2Not,up:p2Up},
 {id:'c3',L:87,R:369,T:343,B:516,w:414,left:0,ty:322.7,xty:556.7,yTx:41.7,tf:26,xf:22.6,yf:22.5,tk:17.5,r:3.4,style:'circle',x:[-10.69,5.97],y:[-.8,17.3],xM:p3XMajor,xm:p3XMinor,yM:p3YMajor,ym:p3YMinor,fmt:v=>String(v),bT:p3BlackTop,bB:p3BlackBase,dT:p3BlueTop,dB:p3BlueBase,uT:p3RedTop,uB:p3RedBase,dHT:p3BlueHaloTop,dHB:p3BlueHaloBase,uHT:p3RedHaloTop,uHB:p3RedHaloBase,down:p3Down,not:p3Not,up:p3Up},
 {id:'c4',L:473,R:786,T:342,B:506,w:400,left:427,ty:321.7,xty:548,yTx:436.7,tf:26,xf:24,yf:23.7,tk:18.4,r:3.5,style:'circle',x:[-6.42,5.7],y:[-.36,7.56],xM:p4XMajor,xm:p4XMinor,yM:p4YMajor,ym:p4YMinor,fmt:v=>String(v),bT:p4BlackTop,bB:p4BlackBase,dT:p4BlueTop,dB:p4BlueBase,uT:p4RedTop,uB:p4RedBase,down:p4Down,not:p4Not,up:p4Up},
 {id:'c5',L:91,R:373,T:618,B:792,w:414,left:30,ty:599,xty:832,yTx:45,tf:26,xf:22.6,yf:22.2,tk:17.5,r:3.4,style:'circle',x:[-10.2,6.92],y:[-.76,17],xM:p5XMajor,xm:p5XMinor,yM:p5YMajor,ym:p5YMinor,fmt:v=>String(v),bT:p5BlackTop,bB:p5BlackBase,dT:p5BlueTop,dB:p5BlueBase,uT:p5RedTop,uB:p5RedBase,dHT:p5BlueHaloTop,dHB:p5BlueHaloBase,uHT:p5RedHaloTop,uHB:p5RedHaloBase,down:p5Down,not:p5Not,up:p5Up}
];

const xy=a=>a.map(p=>({x:p[0],y:p[1]}));
const minus=s=>s.replace('-','\u2212');
const frame={id:'frame',
  afterLayout(c){const t=c.titleBlock;t.left=0;t.right=c.width;},
  afterDatasetsDraw(c){const a=c.chartArea,g=c.ctx;g.save();g.strokeStyle='#333333';g.lineWidth=1.5;g.strokeRect(a.left,a.top,a.right-a.left,a.bottom-a.top);g.restore();}};

function axis(major,minor,range,p,fmt,axisTitle,titleSize,isX){
  return {
    type:'linear',min:range[0],max:range[1],
    afterBuildTicks(s){s.ticks=major.map(v=>({value:v,major:true})).concat(minor.map(v=>({value:v,major:false}))).sort((a,b)=>a.value-b.value);},
    afterFit(s){ if(isX){s.height=p.canvasBottom-p.B;} else {s.width=p.L-p.left;} },
    grid:{color:'#EBEBEB',lineWidth:c=>c.tick&&c.tick.major?2:1,tickColor:c=>c.tick&&c.tick.major?'#333333':'rgba(0,0,0,0)',tickWidth:1.2,tickLength:5},
    border:{display:false},
    ticks:{autoSkip:false,maxRotation:0,color:'#4D4D4D',padding:isX?4:5,font:{size:p.tk},callback(v,i,t){return t[i].major?minus(fmt(v)):'';}},
    title:{display:true,text:axisTitle,color:'#000',font:{size:titleSize},padding:isX?{top:0,bottom:0}:{top:p.yTx-p.left-titleSize*0.6,bottom:0}}
  };
}
Chart.defaults.font.family='"Liberation Sans",Arial,sans-serif';
panels.forEach((p,pi)=>{
  const lh=p.tf*1.2;
  p.canvasTop=p.ty-lh/2;
  p.canvasBottom=p.xty+p.xf*0.6;
  const el=document.getElementById(p.id);
  const H=Math.round(p.canvasBottom-p.canvasTop);
  el.width=p.w;el.height=H;
  el.style.left=p.left+'px';el.style.top=p.canvasTop+'px';el.style.width=p.w+'px';el.style.height=H+'px';
  const pts=(d,c,l)=>({label:l,data:xy(d),backgroundColor:c,borderWidth:0,pointRadius:p.r,pointStyle:p.style,showLine:false});
  const layers=[];           // bottom-up
  const band=(top,base,color,l)=>{
    if(!top) return;
    const b={label:l+' base',data:xy(base),showLine:true,borderWidth:0,pointRadius:0,backgroundColor:color,borderColor:color,fill:false};
    const t={label:l+' core',data:xy(top),showLine:true,borderWidth:0,pointRadius:0,backgroundColor:color,borderColor:color,_base:b};
    layers.push(b,t);
  };
  band(p.bHT,p.bHB,'rgba(0,0,0,.7)','NOT');
  band(p.bT,p.bB,'#000','NOT');
  layers.push(pts(p.not,'rgba(0,0,0,.4)','NOT'));
  band(p.dHT,p.dHB,'rgba(0,0,255,.5)','DOWN');
  band(p.dT,p.dB,'#0000ff','DOWN');
  layers.push(pts(p.down,'rgba(0,0,255,.4)','DOWN'));
  band(p.uHT,p.uHB,'rgba(255,0,0,.5)','UP');
  band(p.uT,p.uB,'#ff0000','UP');
  layers.push(pts(p.up,'rgba(255,0,0,.4)','UP'));
  const datasets=layers.slice().reverse();   // Chart.js paints the first dataset last
  datasets.forEach(d=>{ if(d._base){ d.fill={target:datasets.indexOf(d._base)}; delete d._base; } });
  new Chart(el,{type:'scatter',data:{datasets},plugins:[frame],options:{
    responsive:false,animation:false,devicePixelRatio:1,
    layout:{padding:{left:0,top:0,bottom:0,right:p.left+p.w-p.R}},
    plugins:{
      legend:{display:false},tooltip:{enabled:false},
      filler:{drawTime:'beforeDatasetDraw'},
      title:{display:true,text:titles[pi],color:'#000',font:{size:p.tf,weight:'bold'},padding:{top:0,bottom:p.T-p.canvasTop-lh}}
    },
    scales:{
      x:axis(p.xM,p.xm,p.x,p,p.fmt,xAxisLabel,p.xf,true),
      y:axis(p.yM,p.ym,p.y,p,v=>String(v),yAxisLabel,p.yf,false)
    }
  }});
});
</script>
</body></html>
